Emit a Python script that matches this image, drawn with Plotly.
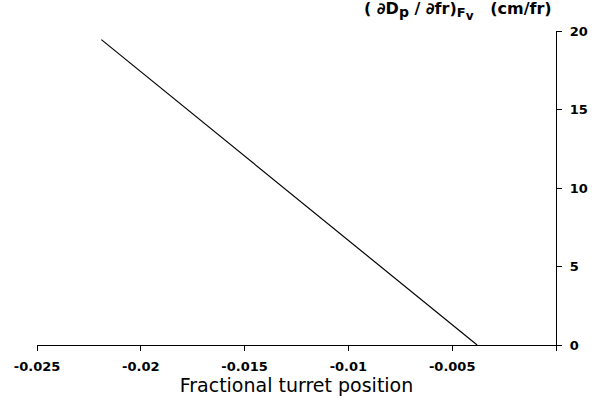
import plotly.graph_objects as go

# Data
x_pos = [-0.0219, -0.0038]
dDp_dfr = [19.45, 0.0]

x_tickvals = [-0.025, -0.02, -0.015, -0.01, -0.005, 0.0]
x_ticktext = ["-0.025", "-0.02", "-0.015", "-0.01", "-0.005", ""]
y_tickvals = [0, 5, 10, 15, 20]
y_ticktext = ["0", "5", "10", "15", "20"]

x_title = "Fractional turret position"
y_title = ("( ∂D<sub><span style='font-size:14px'>p</span></sub> / ∂fr)"
           "<sub><span style='font-size:13px'>F<sub><span style='font-size:12px'>v</span></sub></span></sub>"
           "   (cm/fr)")

FONT = "DejaVu Sans"

fig = go.Figure()
fig.add_trace(go.Scatter(x=x_pos, y=dDp_dfr, mode="lines",
                         line=dict(color="black", width=1.2),
                         showlegend=False, hoverinfo="skip"))

fig.update_layout(
    width=599, height=402,
    margin=dict(l=37, r=43, t=31, b=57),
    paper_bgcolor="white", plot_bgcolor="white",
    font=dict(family=FONT, color="black"),
    xaxis=dict(
        range=[-0.025, 0.0], tickvals=x_tickvals, ticktext=x_ticktext,
        showline=True, linecolor="black", linewidth=1.2, automargin=False,
        ticks="outside", ticklen=5, tickcolor="black", tickwidth=1,
        showgrid=False, zeroline=False, ticklabelstandoff=4,
        tickfont=dict(family=FONT, size=13, color="black", weight="bold"),
        title=dict(text=x_title, font=dict(family=FONT, size=19, color="black"), standoff=5),
    ),
    yaxis=dict(
        range=[0, 20], side="right", tickvals=y_tickvals, ticktext=y_ticktext,
        showline=True, linecolor="black", linewidth=1.2, automargin=False,
        ticks="outside", ticklen=5, tickcolor="black", tickwidth=1,
        showgrid=False, zeroline=False, ticklabelstandoff=5,
        tickfont=dict(family=FONT, size=13, color="black", weight="bold"),
    ),
    annotations=[dict(
        text=y_title, xref="paper", yref="paper", x=1.0, y=1.0,
        xanchor="right", yanchor="top", yshift=34, xshift=-2, showarrow=False,
        font=dict(family=FONT, size=16, color="black", weight="bold"),
    )],
)

fig.write_html("out.html")
